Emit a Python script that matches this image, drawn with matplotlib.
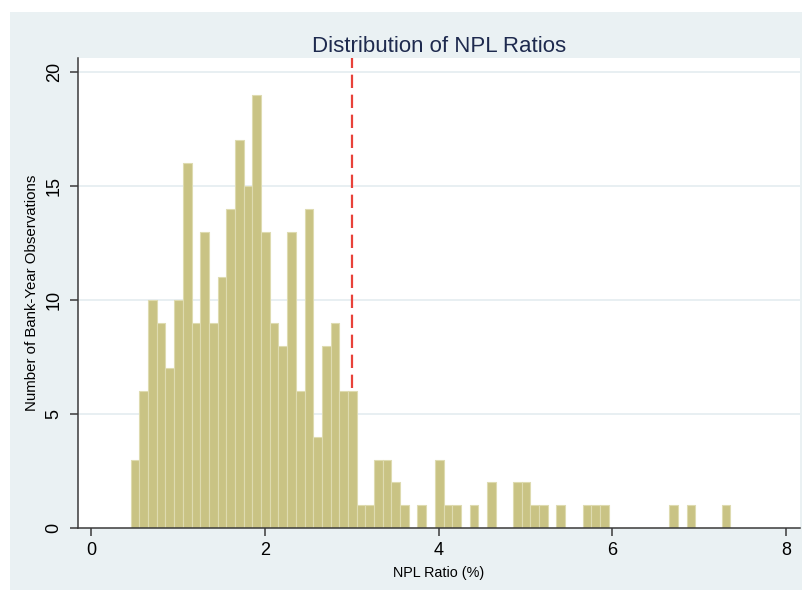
#! /usr/bin/env python

# Histogram of NPL ratios, Stata s2color look

import numpy as np
import matplotlib.pyplot as plt
from matplotlib.patches import Rectangle

# histogram bins (start, width) and counts
bin_start = 0.457
bin_width = 0.1
counts = [3, 6, 10, 9, 7, 10, 16, 9, 13, 9,
          11, 14, 17, 15, 19, 13, 9, 8, 13, 6,
          14, 4, 8, 9, 6, 6, 1, 1, 3, 3,
          2, 1, 0, 1, 0, 3, 1, 1, 0, 1,
          0, 2, 0, 0, 2, 2, 1, 1, 0, 1,
          0, 0, 1, 1, 1, 0, 0, 0, 0, 0,
          0, 0, 1, 0, 1, 0, 0, 0, 1]
cutoff = 3.0
x_ticks = [0, 2, 4, 6, 8]
y_ticks = [0, 5, 10, 15, 20]

plt.rcParams['font.family'] = ['Liberation Sans', 'DejaVu Sans']

W, H = 803, 590
fig = plt.figure(figsize=(W / 100, H / 100), dpi=100, facecolor='white')

# grey graph region (below the axes)
fig.patches.append(Rectangle((10 / W, 0), 1 - 10 / W, 1 - 12 / H,
                             transform=fig.transFigure, facecolor='#eaf1f3',
                             edgecolor='none', zorder=-5))

ax = fig.add_axes([78 / W, 1 - 528 / H, (800 - 78) / W, (528 - 58) / H])
ax.set_facecolor('white')

counts = np.asarray(counts)
lefts = bin_start + bin_width * np.arange(len(counts))

# reference line behind the bars
ax.axvline(cutoff, color='#e8423a', lw=1.6, ls=(0, (6, 3)), zorder=1)

ax.bar(lefts, counts, width=bin_width, align='edge', color='#c9c384',
       edgecolor='#dedbb0', linewidth=0.8, zorder=2)

ax.set_xlim(-0.15, 8.16)
ax.set_ylim(0, 20.61)
ax.set_xticks(x_ticks)
ax.set_yticks(y_ticks)

# gridlines, not at zero
for yv in y_ticks[1:]:
    ax.axhline(yv, color='#e6eef1', lw=1.3, zorder=0.5)

for side in ['top', 'right']:
    ax.spines[side].set_visible(False)
for side in ['left', 'bottom']:
    ax.spines[side].set_color('#3a3a3a')
    ax.spines[side].set_linewidth(1.1)

ax.tick_params(axis='both', direction='out', length=6, width=1.1,
               color='#3a3a3a', labelsize=13)
ax.tick_params(axis='x', pad=4)
ax.tick_params(axis='y', pad=5)
for lab in ax.get_yticklabels():
    lab.set_rotation(90)
    lab.set_va('center')

ax.set_xlabel('NPL Ratio (%)', fontsize=10.4, labelpad=5)
ax.set_ylabel('Number of Bank-Year Observations', fontsize=10.8, labelpad=5)
ax.set_title('Distribution of NPL Ratios', fontsize=16, color='#1e2a4e', pad=4.5)

fig.savefig('out.png', dpi=100, facecolor='white')
